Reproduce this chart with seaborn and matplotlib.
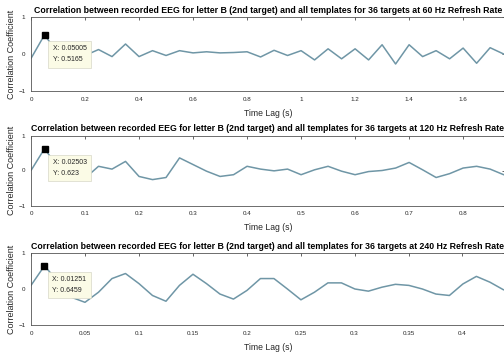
import numpy as np
import pandas as pd
import matplotlib
matplotlib.use("Agg")
import matplotlib.pyplot as plt
import seaborn as sns

# ------------------ data ------------------
rates = [60, 120, 240]
lag_steps = [0.05005, 0.025025, 0.012513]   # 3 frames per step

corr_60 = [-0.12, 0.5165, 0.02, -0.06, -0.04, 0.12, -0.07, 0.27, -0.07, 0.09,
           -0.04, 0.09, 0.03, 0.06, 0.03, 0.04, 0.06, -0.08, 0.10, -0.04,
           0.09, -0.16, 0.14, -0.13, 0.14, -0.16, 0.25, -0.27, 0.25, -0.07,
           0.09, -0.13, 0.16, -0.25, 0.17, 0.0, -0.12]
corr_120 = [0.0, 0.623, 0.10, -0.15, -0.22, 0.12, 0.04, 0.26, -0.17, -0.26,
            -0.20, 0.36, 0.17, -0.02, -0.17, -0.12, 0.12, 0.04, -0.01, 0.04,
            -0.12, 0.02, 0.12, -0.02, -0.12, -0.03, 0.0, 0.07, 0.23, 0.02,
            -0.20, -0.09, 0.07, 0.12, 0.04, -0.12, -0.15]
corr_240 = [0.10, 0.6459, 0.20, -0.23, -0.37, -0.09, 0.29, 0.43, 0.15, -0.18,
            -0.34, 0.10, 0.41, 0.15, -0.14, -0.28, -0.04, 0.29, 0.29, 0.0,
            -0.30, -0.09, 0.17, 0.17, 0.0, -0.06, 0.05, 0.13, 0.10, 0.0,
            -0.14, -0.18, 0.14, 0.35, 0.19, -0.02, -0.10]

tip_x = ["0.05005", "0.02503", "0.01251"]
tip_y = ["0.5165", "0.623", "0.6459"]

xticks_60 = [0, 0.2, 0.4, 0.6, 0.8, 1, 1.2, 1.4, 1.6]
xticks_120 = [0, 0.1, 0.2, 0.3, 0.4, 0.5, 0.6, 0.7, 0.8]
xticks_240 = [0, 0.05, 0.1, 0.15, 0.2, 0.25, 0.3, 0.35, 0.4]
xmax = [1.755, 0.8775, 0.439]

# ------------------ style ------------------
sns.set_style("white")
plt.rcParams['font.family'] = ['Liberation Sans', 'DejaVu Sans']

line_color = '#6f96a6'
ink = '#262626'

fig = plt.figure(figsize=(5.04, 3.56), dpi=100)
W, H = 504.0, 356.0
boxes = [(17, 91), (135.5, 205.5), (253, 325)]   # top/bottom in pixels
left_px = 31

all_corr = [corr_60, corr_120, corr_240]
all_ticks = [xticks_60, xticks_120, xticks_240]

for i in range(3):
    top, bot = boxes[i]
    ax = fig.add_axes([left_px / W, 1 - bot / H, 1 - left_px / W + 0.001, (bot - top) / H])
    vals = all_corr[i]
    df = pd.DataFrame({'lag': np.arange(len(vals)) * lag_steps[i], 'corr': vals})
    sns.lineplot(data=df, x='lag', y='corr', ax=ax, color=line_color, linewidth=1.1)

    # data tip
    ax.plot(df['lag'][1], df['corr'][1], marker='s', color='black', markersize=4)
    ax.annotate("X: " + tip_x[i] + "\nY: " + tip_y[i],
                xy=(df['lag'][1], df['corr'][1]), xycoords='data',
                xytext=(8, -10), textcoords='offset pixels',
                ha='left', va='top', fontsize=5, color=ink, linespacing=1.9,
                bbox=dict(boxstyle='square,pad=0.6', fc='#fbfbe6', ec='#d8d8c8', lw=0.5))

    ax.set_xlim(0, xmax[i])
    ax.set_ylim(-1, 1)
    ax.set_xticks(all_ticks[i])
    ax.set_xticklabels([('%g' % t) for t in all_ticks[i]])
    ax.set_yticks([-1, 0, 1])
    ax.tick_params(direction='in', length=2.5, width=0.5, labelsize=4.5,
                   colors=ink, top=True, right=True, pad=4)
    for s in ax.spines.values():
        s.set_color('#555555')
        s.set_linewidth(0.6)
    ax.set_title("Correlation between recorded EEG for letter B (2nd target) and all "
                 "templates for 36 targets at %d Hz Refresh Rate" % rates[i],
                 fontsize=6.3, fontweight='bold', color='black', pad=3)
    ax.set_xlabel("Time Lag (s)", fontsize=6.2, color=ink, labelpad=5)
    ax.set_ylabel("Correlation Coefficient", fontsize=6.5, color=ink, labelpad=2)

fig.savefig("out.png", dpi=100, facecolor='white')
